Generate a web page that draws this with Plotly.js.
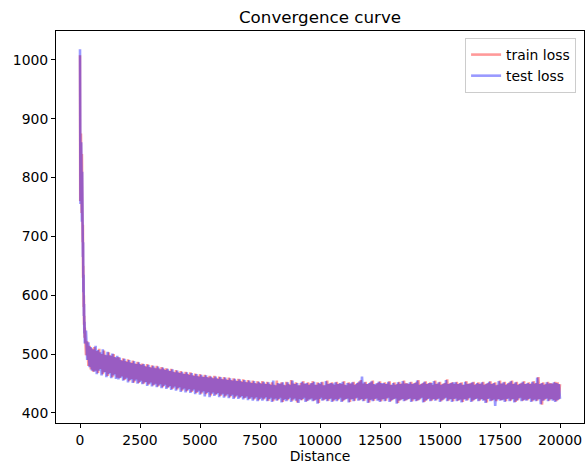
<!DOCTYPE html>
<html>
<head>
<meta charset="utf-8">
<script src="https://cdn.plot.ly/plotly-3.0.1.min.js"></script>
<style>html,body{margin:0;padding:0;background:#fff;}#chart{width:585px;height:466px;}</style>
</head>
<body>
<div id="chart"></div>
<script>
// Distance grid: fine steps at the start, then every 50
var distanceEarly = [0,10,20,30,40,50,60,70,80,90,100,110,120,130,140,150,160,170,180,190,200,250,300,350,400,450,500,550];
var distanceStep = 50, distanceStart = 600, distanceEnd = 20000;

// train loss
var trainEarly = [1008,760,870,780,875,770,860,740,840,720,790,690,720,630,650,580,600,550,565,528,545,
  498,522,480,514,474,510,470];
var trainMain = [
  512,472,505,468,509,475,500,466,506,470,498,463,503,468,497,461,500,466,494,460,
  495,459,490,462,493,456,488,460,491,454,486,458,489,452,484,457,487,451,483,455,
  484,450,480,453,483,448,478,452,481,447,477,450,480,445,476,449,478,444,475,448,
  476,443,472,446,475,441,470,445,473,440,469,444,471,438,467,442,470,437,466,441,
  469,436,464,440,467,434,463,438,466,433,462,437,465,432,461,436,463,430,460,435,
  463,431,459,434,462,429,458,433,461,428,457,432,460,427,456,431,459,426,455,430,
  458,426,454,429,457,425,453,428,456,424,452,427,455,423,451,427,454,422,451,426,
  454,423,450,427,453,421,449,426,452,420,448,425,455,422,449,426,452,419,448,424,
  453,422,449,426,456,421,450,425,452,418,447,424,451,422,454,426,449,420,452,423,
  450,425,454,421,448,423,452,417,449,426,453,422,447,424,455,421,450,425,452,420,
  448,424,453,422,450,426,449,420,454,423,447,425,452,419,450,424,453,421,449,426,
  452,422,456,424,450,421,453,425,449,418,452,423,455,421,448,425,451,422,454,420,
  449,424,452,421,450,426,454,420,448,423,452,425,449,417,453,422,450,424,455,421,
  451,423,449,425,453,420,450,424,452,421,456,423,449,426,451,419,454,422,450,425,
  452,421,448,424,455,422,450,425,453,420,449,423,451,426,457,421,450,424,452,420,
  449,425,453,421,450,423,452,419,448,424,454,422,450,426,451,420,453,423,449,425,
  452,421,450,424,453,422,449,418,451,425,454,421,450,423,452,420,448,424,455,422,
  450,423,453,420,449,425,452,421,455,424,450,419,453,422,449,426,451,421,454,423,
  449,422,452,425,450,420,454,423,451,421,461,424,450,414,452,422,449,425,453,421,
  451,424,450,422,453,420,452,423,449];

// test loss
var testEarly = [1018,880,755,870,765,860,745,845,725,810,700,760,665,690,605,635,565,585,535,555,518,
  540,490,520,478,512,472,508];
var testMain = [
  470,514,466,507,472,503,464,508,469,499,461,504,466,498,459,501,464,495,458,497,
  457,494,460,489,455,492,458,487,452,490,456,485,451,488,455,483,450,486,453,482,
  449,483,452,479,446,482,450,477,445,480,448,476,444,479,447,474,442,477,446,473,
  441,475,444,471,439,474,443,469,438,472,442,468,436,470,440,466,435,469,439,465,
  434,468,438,463,432,466,436,462,431,465,435,461,428,464,434,460,427,462,433,459,
  429,462,432,458,427,461,431,457,426,460,430,456,425,459,429,455,424,458,428,454,
  424,457,427,453,423,456,426,452,422,455,425,451,421,454,425,450,420,453,424,450,
  421,453,425,449,420,452,424,448,419,455,423,447,421,451,424,450,418,452,422,447,
  420,452,424,448,419,455,423,449,421,451,417,447,422,453,424,450,419,451,421,448,
  423,451,420,453,422,448,416,451,424,452,421,447,423,454,420,449,424,451,419,450,
  422,452,420,449,424,451,419,453,422,448,424,451,418,450,423,452,420,448,425,451,
  421,454,423,462,420,452,424,449,417,451,422,454,420,449,424,450,421,453,419,451,
  423,451,420,449,425,453,419,448,422,451,424,448,416,452,421,449,423,454,420,450,
  422,450,424,452,419,449,423,451,420,455,422,448,425,450,418,453,421,449,424,451,
  420,451,423,454,421,449,424,452,419,448,422,450,425,456,420,449,423,451,419,452,
  424,452,420,449,422,451,418,448,423,453,421,449,425,450,419,452,422,448,424,451,
  420,449,423,452,421,448,417,450,424,453,420,449,422,451,412,447,423,454,421,450,
  422,452,419,448,424,451,420,454,423,449,418,452,421,448,425,450,420,453,422,449,
  421,451,424,449,419,453,422,450,420,460,423,449,415,451,421,448,424,452,420,450,
  423,450,421,452,419,451,422,449,424];

var seriesNames = ['train loss', 'test loss'];
var xTickVals = [0,2500,5000,7500,10000,12500,15000,17500,20000];
var yTickVals = [400,500,600,700,800,900,1000];

var distance = distanceEarly.slice();
for (var d = distanceStart; d <= distanceEnd; d += distanceStep) distance.push(d);
var trainLoss = trainEarly.concat(trainMain);
var testLoss = testEarly.concat(testMain);

var font = 'DejaVu Sans, sans-serif';
var traces = [
  {x: distance, y: trainLoss, type: 'scatter', mode: 'lines', name: seriesNames[0],
   line: {color: 'rgba(255,0,0,0.4)', width: 2.6}},
  {x: distance, y: testLoss, type: 'scatter', mode: 'lines', name: seriesNames[1],
   line: {color: 'rgba(0,0,255,0.4)', width: 2.6}}
];
var layout = {
  width: 585, height: 466,
  margin: {l: 56, r: 1, t: 31, b: 43, pad: 0},
  paper_bgcolor: '#fff', plot_bgcolor: '#fff',
  font: {family: font, size: 13.9, color: '#000'},
  title: {text: 'Convergence curve', font: {family: font, size: 16.7, color: '#000'}, x: 0.547, xanchor: 'center', y: 0.9635, yanchor: 'middle'},
  xaxis: {range: [-1000, 21000], tickvals: xTickVals, ticktext: xTickVals.map(String),
    ticks: 'outside', ticklen: 4, tickwidth: 1, tickcolor: '#000', showgrid: false, zeroline: false,
    showline: true, linecolor: '#000', linewidth: 1, mirror: true,
    tickfont: {family: font, size: 13.9}, title: {text: 'Distance', font: {family: font, size: 13.9}, standoff: 3}},
  yaxis: {range: [383, 1049], tickvals: yTickVals, ticktext: yTickVals.map(String),
    ticks: 'outside', ticklen: 4, tickwidth: 1, tickcolor: '#000', showgrid: false, zeroline: false,
    showline: true, linecolor: '#000', linewidth: 1, mirror: true,
    tickfont: {family: font, size: 13.9}},
  showlegend: true,
  legend: {x: 0.985, xanchor: 'right', y: 0.982, yanchor: 'top', bgcolor: 'rgba(255,255,255,0.8)',
    bordercolor: '#ccc', borderwidth: 1, font: {family: font, size: 13.9}, tracegroupgap: 0}
};
Plotly.newPlot('chart', traces, layout, {staticPlot: true, displayModeBar: false});
</script>
</body>
</html>
